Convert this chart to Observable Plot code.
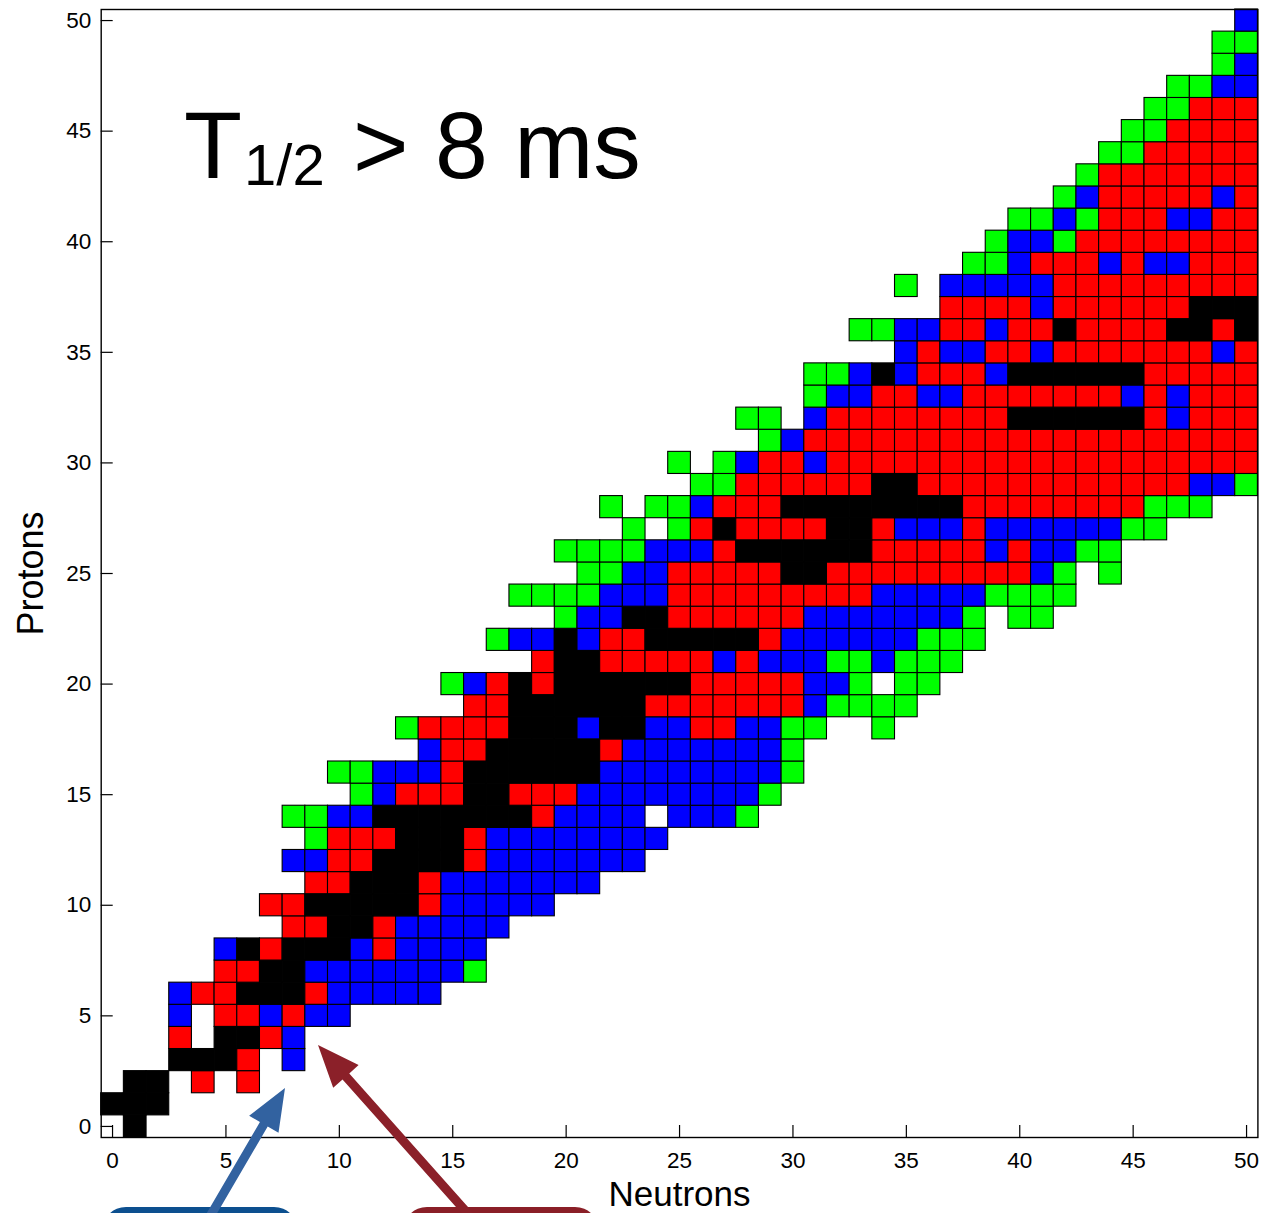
<!DOCTYPE html>
<html>
<head>
<meta charset="utf-8">
<script src="https://cdn.jsdelivr.net/npm/d3@7"></script>
<script src="https://cdn.jsdelivr.net/npm/@observablehq/plot@0.6"></script>
<style>
html, body { margin: 0; padding: 0; background: #fff; overflow: hidden; }
#wrap { position: relative; width: 1263px; height: 1213px; font-family: "Liberation Sans", Arial, Helvetica, sans-serif; }
#chart { position: absolute; left: 0; top: 0; }
#ann { position: absolute; left: 0; top: 0; overflow: visible; }
</style>
</head>
<body>
<div id="wrap">
  <div id="chart"></div>
  <svg id="ann" width="1263" height="1213"></svg>
</div>
<script>
// ---- data ----
// Nuclide chart: for each proton number Z (row), the first neutron number N
// of the row and the run-length encoded sequence of cell categories.
// k = black (stable), r = red, b = blue, g = green, . = empty
const rowStart = [1,0,1,3,3,3,3,5,5,8,7,9,8,9,8,11,10,14,13,16,15,19,17,20,18,21,20,23,22,26,25,29,28,31,31,35,33,37,35,38,39,40,42,43,44,45,46,47,49,49,50];
const rowRuns = [
  "k1",
  "k3",
  "k2 .1 r1 .1 r1",
  "k3 r1 .1 b1",
  "r1 .1 k2 r1 b1",
  "b1 .1 r2 b1 r1 b2",
  "b1 r2 k3 r1 b5",
  "r2 k2 b7 g1",
  "b1 k1 r1 k3 b1 r1 b4",
  "r2 k2 r1 b5",
  "r2 k5 r1 b5",
  "r2 k3 r1 b7",
  "b2 r2 k4 r1 b7",
  "g1 r3 k3 r1 b8",
  "g2 b2 k7 r1 b4 .1 b3 g1",
  "g1 b1 r3 k2 r3 b8 g1",
  "g2 b3 r1 k6 b8 g1",
  "b1 r2 k5 r1 b7 g1",
  "g1 r4 k3 b1 k2 b2 r2 b2 g2 .2 g1",
  "r2 k6 r7 b1 g4",
  "g1 b1 r1 k1 r1 k6 r5 b2 g1 .1 g2",
  "r1 k2 r5 b1 r1 b3 g2 b1 g3",
  "g1 b2 k1 b1 r2 k5 r1 b6 g3",
  "g1 b2 k2 r6 b7 g1 .1 g2",
  "g4 b3 r9 b5 g4",
  "g2 b2 r5 k2 r9 b1 g1 .1 g1",
  "g4 b3 r1 k6 r5 b1 r1 b2 g2",
  "g1 .1 g1 r1 k1 r4 k2 r1 b3 r1 b6 g2",
  "g1 .1 g2 b1 r3 k8 r8 g3",
  "g2 r6 k2 r12 b2 g1",
  "g1 .1 g1 b1 r2 b1 r19",
  "g1 b1 r20",
  "g2 .1 b1 r8 k6 r1 b1 r3",
  "g1 b2 r2 b2 r7 b1 r1 b1 r3",
  "g2 b1 k1 b1 r3 b1 k6 r5",
  "b1 r1 b2 r2 b1 r7 b1 r1",
  "g2 b2 r2 b1 r2 k1 r4 k2 r1 k1",
  "r4 b1 r6 k3",
  "g1 .1 b5 r9",
  "g2 b1 r3 b1 r1 b2 r3",
  "g1 b2 g1 r8",
  "g2 b1 g1 r3 b2 r2",
  "g1 b1 r5 b1 r1",
  "g1 r7",
  "g2 r5",
  "g2 r4",
  "g2 r3",
  "g2 b2",
  "g1 b1",
  "g2",
  "b1"
];
const categories = ["k", "r", "b", "g"];
const categoryColors = ["#000000", "#ff0000", "#0000ff", "#00ff00"];
const tickValues = [0, 5, 10, 15, 20, 25, 30, 35, 40, 45, 50];
const xLabel = "Neutrons";
const yLabel = "Protons";

// ---- build the cell table from the arrays ----
const cells = [];
rowRuns.forEach((runs, z) => {
  let n = rowStart[z];
  runs.split(" ").forEach(run => {
    const kind = run[0];
    const count = +run.slice(1);
    for (let i = 0; i < count; i++) {
      if (kind !== ".") cells.push({n: n, z: z, kind: kind});
      n++;
    }
  });
});

// ---- layout ----
const W = 1263, H = 1213;
const mL = 100.7, mR = 5.6, mT = 9, mB = 76;
const frameW = W - mL - mR, frameH = H - mT - mB;

const chart = Plot.plot({
  width: W,
  height: H,
  marginLeft: mL,
  marginRight: mR,
  marginTop: mT,
  marginBottom: mB,
  style: {fontFamily: '"Liberation Sans", Arial, Helvetica, sans-serif', fontSize: "22px", color: "black", background: "white"},
  x: {domain: [-0.5, 50.5], ticks: tickValues, label: null},
  y: {domain: [-0.5, 50.5], ticks: tickValues, label: null},
  color: {domain: categories, range: categoryColors},
  marks: [
    Plot.tickX(tickValues, {x: d => d, insetTop: frameH - 12, stroke: "black", strokeWidth: 1.2}),
    Plot.tickY(tickValues, {y: d => d, insetRight: frameW - 12, stroke: "black", strokeWidth: 1.2}),
    Plot.rect(cells, {
      x1: d => d.n - 0.5, x2: d => d.n + 0.5,
      y1: d => d.z - 0.5, y2: d => d.z + 0.5,
      fill: "kind", stroke: "black", strokeWidth: 1.1
    }),
    Plot.frame({stroke: "black", strokeWidth: 1.4}),
    Plot.axisX({ticks: tickValues, tickSize: 0, tickPadding: 15, fontSize: 22.5, label: null}),
    Plot.axisY({ticks: tickValues, tickSize: 0, tickPadding: 10, fontSize: 22.5, label: null}),
    Plot.text([yLabel], {text: d => d, frameAnchor: "left", textAnchor: "middle", lineAnchor: "middle", dx: -70, rotate: -90, fontSize: 36, fill: "black"}),
    Plot.text([xLabel], {text: d => d, frameAnchor: "bottom", textAnchor: "middle", lineAnchor: "bottom", dy: 68, fontSize: 35, fill: "black"})
  ]
});
document.getElementById("chart").appendChild(chart);

// ---- annotations: title and call-out boxes with arrows ----
const ns = "http://www.w3.org/2000/svg";
const ann = document.getElementById("ann");
function el(tag, attrs, parent) {
  const e = document.createElementNS(ns, tag);
  for (const k in attrs) e.setAttribute(k, attrs[k]);
  (parent || ann).appendChild(e);
  return e;
}
// title  T_{1/2} > 8 ms
const title = el("text", {x: 184, y: 178, "font-size": 95, "font-family": '"Liberation Sans", Arial, sans-serif', fill: "black"});
const t1 = el("tspan", {}, title); t1.textContent = "T";
const t2 = el("tspan", {"font-size": 58, dy: 7, dx: 2}, title); t2.textContent = "1/2";
const t3 = el("tspan", {dy: -7, dx: 2}, title); t3.textContent = "\u00a0> 8 ms";

// boxes
el("rect", {x: 102, y: 1207, width: 196, height: 90, rx: 24, fill: "#0c4f8f"});
el("rect", {x: 403, y: 1207, width: 196, height: 90, rx: 24, fill: "#8a1f27"});

function arrow(tail, tip, color, shaftW, headL, headW) {
  const dx = tip[0] - tail[0], dy = tip[1] - tail[1];
  const len = Math.hypot(dx, dy);
  const ux = dx / len, uy = dy / len;
  const px = -uy, py = ux;
  const bx = tip[0] - ux * headL, by = tip[1] - uy * headL;
  const pts = [
    [tail[0] + px * shaftW / 2, tail[1] + py * shaftW / 2],
    [bx + px * shaftW / 2, by + py * shaftW / 2],
    [bx + px * headW / 2, by + py * headW / 2],
    tip,
    [bx - px * headW / 2, by - py * headW / 2],
    [bx - px * shaftW / 2, by - py * shaftW / 2],
    [tail[0] - px * shaftW / 2, tail[1] - py * shaftW / 2]
  ];
  el("path", {d: "M" + pts.map(p => p.join(",")).join("L") + "Z", fill: color});
}
arrow([205, 1225], [285, 1088], "#3262a0", 9, 42, 34);
arrow([478, 1225], [318, 1045], "#8b2029", 9, 42, 34);
</script>
</body>
</html>
